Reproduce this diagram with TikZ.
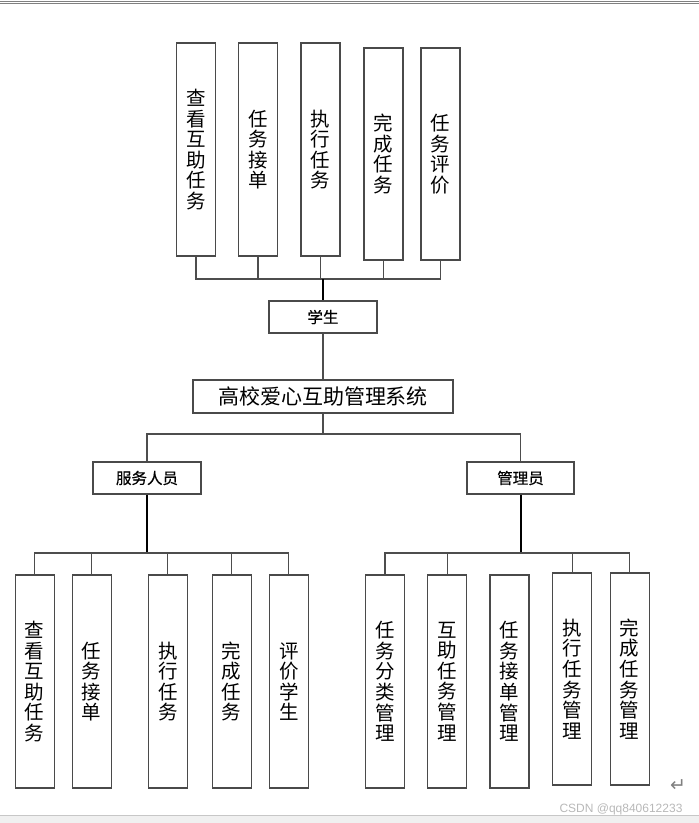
\documentclass[tikz,border=0pt]{standalone}
\usepackage{fontspec}
\newfontfamily\cjk{Noto Sans CJK SC}
\newfontfamily\cjkmid{Noto Sans CJK SC}[FakeBold=0.5]
\newfontfamily\symfont{DejaVu Sans}
\setsansfont{Liberation Sans}
\usetikzlibrary{positioning}

\definecolor{linegray}{HTML}{4D4D4D}
\definecolor{boxgray}{HTML}{4A4A4A}

\tikzstyle{tallbox} = [rectangle, draw=boxgray, line width=1.1pt, minimum width=39, minimum height=213, inner sep=0pt, align=center, font=\cjk\fontsize{19.5}{20.6}\selectfont]
\tikzstyle{rolebox} = [rectangle, draw=boxgray, line width=1.1pt, minimum width=108, minimum height=32, inner sep=0pt, font=\cjkmid\fontsize{15.5}{15.5}\selectfont]
\tikzstyle{sysbox} = [rectangle, draw=boxgray, line width=1.1pt, minimum width=260, minimum height=33, inner sep=0pt, font=\cjk\fontsize{21}{21}\selectfont]
\tikzstyle{conn} = [draw=linegray, line width=1.1pt]
\tikzstyle{trunk} = [draw=black, line width=2pt]

\begin{document}
\begin{tikzpicture}[x=1pt,y=-1pt]
\useasboundingbox (0,0) rectangle (699,823);

% page edges
\draw [gray, line width=0.9pt] (0,1.2) -- (699,1.2);
\draw [gray, line width=0.9pt] (0,3.4) -- (699,3.4);
\fill [black!6] (0,815) rectangle (699,823);
\draw [black!22, line width=0.8pt] (0,815) -- (699,815);

% student side
\node (t1) [tallbox] at (196,149.5) {查\\看\\互\\助\\任\\务};
\node (t2) [tallbox] at (258,149.5) {任\\务\\接\\单};
\node (t3) [tallbox] at (320.5,149.5) {执\\行\\任\\务};
\node (t4) [tallbox, minimum height=212] at (383.5,154) {完\\成\\任\\务};
\node (t5) [tallbox, minimum height=212] at (440.5,154) {任\\务\\评\\价};
\coordinate (topbus) at (323,279);
\node (stu) [rolebox] at (323,317) {学生};

% system
\node (sys) [sysbox] at (323,396.5) {高校爱心互助管理系统};
\coordinate (midbus) at (323,434);
\node (svc) [rolebox] at (147,478) {服务人员};
\node (adm) [rolebox, minimum width=107] at (520.5,478) {管理员};

% service staff side
\coordinate (lbus) at (147,553);
\node (l1) [tallbox] at (34.7,681.5) {查\\看\\互\\助\\任\\务};
\node (l2) [tallbox] at (91.7,681.5) {任\\务\\接\\单};
\node (l3) [tallbox] at (167.8,681.5) {执\\行\\任\\务};
\node (l4) [tallbox] at (231.7,681.5) {完\\成\\任\\务};
\node (l5) [tallbox] at (288.8,681.5) {评\\价\\学\\生};

% admin side
\coordinate (rbus) at (520.5,553);
\node (r1) [tallbox] at (385,681.5) {任\\务\\分\\类\\管\\理};
\node (r2) [tallbox] at (447.3,681.5) {互\\助\\任\\务\\管\\理};
\node (r3) [tallbox] at (509.5,681.5) {任\\务\\接\\单\\管\\理};
\node (r4) [tallbox, minimum height=212] at (572.3,679) {执\\行\\任\\务\\管\\理};
\node (r5) [tallbox, minimum height=212] at (629.7,679) {完\\成\\任\\务\\管\\理};

\draw [conn] (t1.south) |- (topbus);
\draw [conn] (t2.south) |- (topbus);
\draw [conn] (t3.south) |- (topbus);
\draw [conn] (t4.south) |- (topbus);
\draw [conn] (t5.south) |- (topbus);
\draw [trunk] (topbus) -- (stu.north);
\draw [conn] (stu.south) -- (sys.north);
\draw [conn] (sys.south) -- (midbus);
\draw [conn] (midbus) -| (svc.north);
\draw [conn] (midbus) -| (adm.north);

\draw [trunk] (svc.south) -- (lbus);
\draw [conn] (lbus) -| (l1.north);
\draw [conn] (lbus) -| (l2.north);
\draw [conn] (lbus) -| (l3.north);
\draw [conn] (lbus) -| (l4.north);
\draw [conn] (lbus) -| (l5.north);

\draw [trunk] (adm.south) -- (rbus);
\draw [conn] (rbus) -| (r1.north);
\draw [conn] (rbus) -| (r2.north);
\draw [conn] (rbus) -| (r4.north);
\draw [conn] (rbus) -| (r5.north);
%\draw [conn] (rbus) -| (r3.north);

\node (ret) [text=gray, font=\symfont\fontsize{19}{19}\selectfont] at (678,786) {↵};
\node (mark) [text=black!28, font=\sffamily\fontsize{12}{12}\selectfont] at (621,809) {CSDN @qq840612233};
\end{tikzpicture}
\end{document}
